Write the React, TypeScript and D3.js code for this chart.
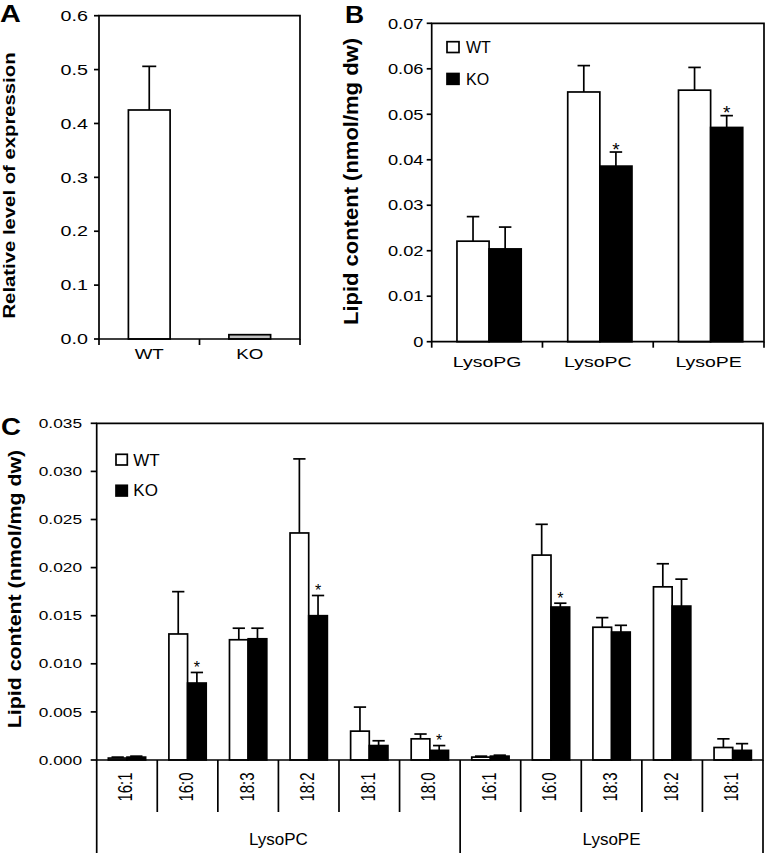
import React from "react";
import * as d3 from "d3";

// ---------- Panel A data ----------
const aCategories = ["WT", "KO"];
const aValues = [0.425, 0.008];
const aErrors = [0.081, 0];
const aFills = ["#ffffff", "#c0c0c0"];

// ---------- Panel B data ----------
const bCategories = ["LysoPG", "LysoPC", "LysoPE"];
const bWT = [0.0221, 0.0549, 0.0553];
const bWTErr = [0.0054, 0.0058, 0.005];
const bKO = [0.0204, 0.0386, 0.0471];
const bKOErr = [0.0048, 0.0031, 0.0026];
const bSig = [false, true, true];

// ---------- Panel C data ----------
const cGroupNames = ["LysoPC", "LysoPE"];
const cGroupSpecies = [
  ["16:1", "16:0", "18:3", "18:2", "18:1", "18:0"],
  ["16:1", "16:0", "18:3", "18:2", "18:1"],
];
const cWT = [0.0002, 0.0131, 0.0125, 0.0236, 0.003, 0.0022, 0.0003, 0.0213, 0.0138, 0.018, 0.0013];
const cWTErr = [0.0001, 0.0044, 0.0012, 0.0077, 0.0025, 0.0005, 0.0001, 0.0032, 0.001, 0.0024, 0.0009];
const cKO = [0.0003, 0.008, 0.0126, 0.015, 0.0015, 0.001, 0.0004, 0.0159, 0.0133, 0.016, 0.001];
const cKOErr = [0.0001, 0.0011, 0.0011, 0.0021, 0.0005, 0.0005, 0.0001, 0.0004, 0.0007, 0.0028, 0.0007];
const cSig = [false, true, false, true, false, true, false, true, false, false, false];

const FONT = "'Liberation Sans', Arial, Helvetica, sans-serif";
const SW = 1.7;

type STextProps = {
  x: number;
  y: number;
  sx?: number;
  sy?: number;
  rotate?: number;
  size: number;
  bold?: boolean;
  anchor?: "start" | "middle" | "end";
  dy?: string;
  children: React.ReactNode;
};
function SText({ x, y, sx = 1, sy = 1, rotate = 0, size, bold, anchor = "start", dy, children }: STextProps) {
  return (
    <text
      transform={`translate(${x},${y}) rotate(${rotate}) scale(${sx},${sy})`}
      fontSize={size}
      fontWeight={bold ? "bold" : "normal"}
      textAnchor={anchor}
      dy={dy}
      fontFamily={FONT}
      fill="#000"
    >
      {children}
    </text>
  );
}

function ErrorBar({ cx, y0, y1, cap }: { cx: number; y0: number; y1: number; cap: number }) {
  return (
    <g stroke="#000" strokeWidth={SW}>
      <line x1={cx} x2={cx} y1={y0} y2={y1} />
      <line x1={cx - cap / 2} x2={cx + cap / 2} y1={y1} y2={y1} />
    </g>
  );
}

function PanelA() {
  const L = 99, R = 300, T = 15.7, B = 339;
  const x = d3.scaleBand<string>().domain(aCategories).range([L, R]);
  const y = d3.scaleLinear().domain([0, 0.6]).range([B, T]);
  const bw = x.bandwidth() * 0.415;
  const ticks = d3.range(0, 0.61, 0.1);
  const seps = [L, ...aCategories.map((c) => (x(c) as number) + x.bandwidth())];
  return (
    <g>
      {aCategories.map((c, i) => {
        const cx = (x(c) as number) + x.bandwidth() / 2;
        return (
          <g key={c}>
            {aErrors[i] > 0 && (
              <ErrorBar cx={cx} y0={y(aValues[i])} y1={y(aValues[i] + aErrors[i])} cap={14} />
            )}
            <rect x={cx - bw / 2} y={y(aValues[i])} width={bw} height={B - y(aValues[i])} fill={aFills[i]} stroke="#000" strokeWidth={SW} />
            <SText x={cx} y={359} size={15} sx={1.25} anchor="middle">{c}</SText>
          </g>
        );
      })}
      <path d={`M${L},${B} V${T} H${R} V${B} Z`} fill="none" stroke="#000" strokeWidth={SW} />
      {ticks.map((t) => (
        <g key={t}>
          <line x1={L - 5} x2={L} y1={y(t)} y2={y(t)} stroke="#000" strokeWidth={SW} />
          <SText x={88} y={y(t)} size={14.5} sx={1.36} anchor="end" dy="0.36em">{d3.format(".1f")(t)}</SText>
        </g>
      ))}
      {seps.map((s, i) => (
        <line key={i} x1={s} x2={s} y1={B} y2={B + 6} stroke="#000" strokeWidth={SW} />
      ))}
      <SText x={14.6} y={185.5} rotate={-90} size={16.5} sx={1.23} bold anchor="middle">Relative level of expression</SText>
      <SText x={0} y={22} size={24} sx={1.2} bold>A</SText>
    </g>
  );
}

function PanelB() {
  const L = 431.7, R = 764, T = 23.3, B = 341.7;
  const x = d3.scaleBand<string>().domain(bCategories).range([L, R]);
  const y = d3.scaleLinear().domain([0, 0.07]).range([B, T]);
  const bw = x.bandwidth() * 0.29;
  const ticks = d3.range(0, 0.0701, 0.01);
  const seps = [L, ...bCategories.map((c) => (x(c) as number) + x.bandwidth())];
  return (
    <g>
      {bCategories.map((c, i) => {
        const cx = (x(c) as number) + x.bandwidth() / 2 + 2;
        const wx = cx - bw / 2;
        const kx = cx + bw / 2;
        return (
          <g key={c}>
            <ErrorBar cx={wx} y0={y(bWT[i])} y1={y(bWT[i] + bWTErr[i])} cap={12.5} />
            <ErrorBar cx={kx} y0={y(bKO[i])} y1={y(bKO[i] + bKOErr[i])} cap={12.5} />
            <rect x={cx - bw} y={y(bWT[i])} width={bw} height={B - y(bWT[i])} fill="#fff" stroke="#000" strokeWidth={SW} />
            <rect x={cx} y={y(bKO[i])} width={bw} height={B - y(bKO[i])} fill="#000" stroke="#000" strokeWidth={SW} />
            {bSig[i] && (
              <SText x={kx} y={y(bKO[i] + bKOErr[i]) + 3.5} size={19} anchor="middle">*</SText>
            )}
            <SText x={cx - 2} y={367} size={15} sx={1.3} anchor="middle">{c}</SText>
          </g>
        );
      })}
      <path d={`M${L},${B} V${T} H${R} V${B} Z`} fill="none" stroke="#000" strokeWidth={SW} />
      {ticks.map((t) => (
        <g key={t}>
          <line x1={L - 5} x2={L} y1={y(t)} y2={y(t)} stroke="#000" strokeWidth={SW} />
          <SText x={423.5} y={y(t)} size={14.5} sx={1.26} anchor="end" dy="0.36em">{t === 0 ? "0" : d3.format(".2f")(t)}</SText>
        </g>
      ))}
      {seps.map((s, i) => (
        <line key={i} x1={s} x2={s} y1={B} y2={B + 6} stroke="#000" strokeWidth={SW} />
      ))}
      <rect x={447} y={41.7} width={12} height={10.8} fill="#fff" stroke="#000" strokeWidth={SW} />
      <SText x={466} y={52.6} size={16}>WT</SText>
      <rect x={447} y={73.5} width={12} height={10.8} fill="#000" stroke="#000" strokeWidth={SW} />
      <SText x={466} y={84.6} size={16}>KO</SText>
      <SText x={358} y={181.5} rotate={-90} size={20} sx={1.1} bold anchor="middle">Lipid content (nmol/mg dw)</SText>
      <SText x={345} y={23} size={23} sx={1.15} bold>B</SText>
    </g>
  );
}

function PanelC() {
  const L = 96.7, R = 763, T = 423.3, B = 760;
  const keys = cGroupSpecies.flatMap((sp, g) => sp.map((s) => `${cGroupNames[g]}|${s}`));
  const x = d3.scaleBand<string>().domain(keys).range([L, R]);
  const y = d3.scaleLinear().domain([0, 0.035]).range([B, T]);
  const bw = x.bandwidth() * 0.308;
  const ticks = d3.range(0, 0.03501, 0.005);
  const groupBounds: number[] = [L];
  let idx = 0;
  cGroupSpecies.forEach((sp) => {
    idx += sp.length;
    groupBounds.push(L + idx * x.bandwidth());
  });
  return (
    <g>
      {keys.map((k, i) => {
        const cx = (x(k) as number) + x.bandwidth() / 2;
        const wx = cx - bw / 2;
        const kx = cx + bw / 2;
        return (
          <g key={k}>
            <ErrorBar cx={wx} y0={y(cWT[i])} y1={y(cWT[i] + cWTErr[i])} cap={12.3} />
            <ErrorBar cx={kx} y0={y(cKO[i])} y1={y(cKO[i] + cKOErr[i])} cap={12.3} />
            <rect x={cx - bw} y={y(cWT[i])} width={bw} height={B - y(cWT[i])} fill="#fff" stroke="#000" strokeWidth={SW} />
            <rect x={cx} y={y(cKO[i])} width={bw} height={B - y(cKO[i])} fill="#000" stroke="#000" strokeWidth={SW} />
            {cSig[i] && (
              <SText x={kx} y={y(cKO[i] + cKOErr[i]) + 0.5} size={16} anchor="middle">*</SText>
            )}
            <SText x={cx + 5.5} y={787} rotate={-90} size={15} sy={1.3} anchor="middle">{k.split("|")[1]}</SText>
            {i > 0 && !groupBounds.includes(x(k) as number) && (
              <line x1={x(k) as number} x2={x(k) as number} y1={B} y2={812} stroke="#000" strokeWidth={SW} />
            )}
          </g>
        );
      })}
      <path d={`M${L},${B} V${T} H${R} V${B} Z`} fill="none" stroke="#000" strokeWidth={SW} />
      {groupBounds.map((g, i) => (
        <line key={i} x1={g} x2={g} y1={B} y2={853} stroke="#000" strokeWidth={SW} />
      ))}
      {cGroupNames.map((n, i) => (
        <SText key={n} x={(groupBounds[i] + groupBounds[i + 1]) / 2} y={845} size={17} anchor="middle">{n}</SText>
      ))}
      {ticks.map((t) => (
        <g key={t}>
          <line x1={L - 6} x2={L} y1={y(t)} y2={y(t)} stroke="#000" strokeWidth={SW} />
          <SText x={82} y={y(t)} size={13} sx={1.33} anchor="end" dy="0.36em">{d3.format(".3f")(t)}</SText>
        </g>
      ))}
      <rect x={116} y={454.3} width={11.3} height={10.7} fill="#fff" stroke="#000" strokeWidth={SW} />
      <SText x={133.3} y={465.5} size={17}>WT</SText>
      <rect x={116} y={485.3} width={11.3} height={10.7} fill="#000" stroke="#000" strokeWidth={SW} />
      <SText x={133.3} y={496.3} size={17}>KO</SText>
      <SText x={20.5} y={589} rotate={-90} size={18.4} sx={1.16} bold anchor="middle">Lipid content (nmol/mg dw)</SText>
      <SText x={1} y={435} size={24} sx={1.15} bold>C</SText>
    </g>
  );
}

export default function App() {
  return (
    <svg
      width={767}
      height={853}
      viewBox="0 0 767 853"
      style={{ position: "absolute", left: 0, top: 0, background: "#fff" }}
    >
      <rect x={0} y={0} width={767} height={853} fill="#fff" />
      <PanelA />
      <PanelB />
      <PanelC />
    </svg>
  );
}
